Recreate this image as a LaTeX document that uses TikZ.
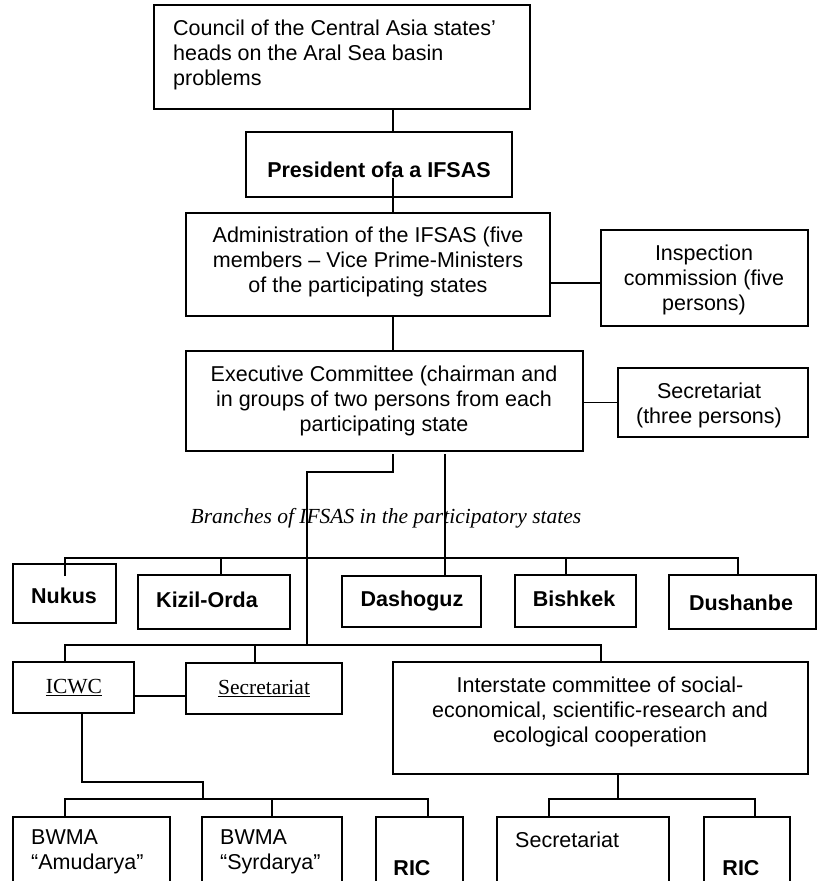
\documentclass[tikz,border=0pt]{standalone}
\usepackage{fontspec}
\setmainfont{Liberation Sans}
\newfontfamily\serifTNR{Liberation Serif}
\usetikzlibrary{fit}
\begin{document}
\begin{tikzpicture}[x=1pt,y=-1pt,
  box/.style={draw, line width=1.5pt, rectangle, inner sep=0pt},
  txt/.style={inner sep=0pt, font=\fontsize{21.5}{25}\selectfont, align=center},
  bold/.style={txt, font=\fontsize{21.5}{25}\selectfont\bfseries},
  conn/.style={line width=1.5pt}]
\useasboundingbox (0,0) rectangle (818,881);
\clip (0,0) rectangle (818,881);

% boxes
\node[box, fit={(154,5) (530,109)}] (council) {};
\node[box, fit={(246,132) (512,197)}] (pres) {};
\node[box, fit={(186,213) (550,316)}] (admin) {};
\node[box, fit={(601,230) (808,326)}] (insp) {};
\node[box, fit={(186,351) (583,451)}] (exec) {};
\node[box, fit={(618,368) (808,437)}] (secA) {};
\node[box, fit={(13,564) (116,623)}] (nukus) {};
\node[box, fit={(138,575) (290,629)}] (kizil) {};
\node[box, fit={(342,576) (481,627)}] (dasho) {};
\node[box, fit={(515,575) (636,627)}] (bish) {};
\node[box, fit={(669,575) (816,629)}] (dush) {};
\node[box, fit={(13,662) (134,713)}] (icwc) {};
\node[box, fit={(186,663) (342,714)}] (secB) {};
\node[box, fit={(393,662) (808,774)}] (inter) {};
\node[box, fit={(13,817) (170,910)}] (bwmaA) {};
\node[box, fit={(202,817) (342,910)}] (bwmaS) {};
\node[box, fit={(376,817) (463,910)}] (ricA) {};
\node[box, fit={(497,817) (669,910)}] (secC) {};
\node[box, fit={(704,817) (790,910)}] (ricB) {};

% texts
\node[txt, align=left, anchor=west] (tcouncil) at (173,54.5) {Council of the Central Asia states’\\heads on the Aral Sea basin\\problems};
\node[bold] (tpres) at (379,169.5) {President ofa a IFSAS};
\node[txt] (tadmin) at (368,261.5) {Administration of the IFSAS (five\\members – Vice Prime-Ministers\\of the participating states};
\node[txt] (tinsp) at (704,279.5) {Inspection\\commission (five\\persons)};
\node[txt] (texec) at (384,400.5) {Executive Committee (chairman and\\in groups of two persons from each\\participating state};
\node[txt] (tsecA) at (709,405) {Secretariat\\(three persons)};
\node[txt, font=\fontsize{21.5}{25}\selectfont\serifTNR\itshape] (tbranch) at (386,518.5) {Branches of IFSAS in the participatory states};
\node[bold] (tnukus) at (64,595.5) {Nukus};
\node[bold] (tkizil) at (207,599.5) {Kizil-Orda};
\node[bold] (tdasho) at (412,600.5) {Dashoguz};
\node[bold] (tbish) at (574,598.5) {Bishkek};
\node[bold] (tdush) at (741,602.5) {Dushanbe};
\node[txt, font=\fontsize{21.5}{25}\selectfont\serifTNR] (ticwc) at (74,687.5) {\underline{ICWC}};
\node[txt, font=\fontsize{21.5}{25}\selectfont\serifTNR] (tsecB) at (264,688.5) {\underline{Secretariat}};
\node[txt] (tinter) at (600,711.5) {Interstate committee of social-\\economical, scientific-research and\\ecological cooperation};
\node[txt, align=left, anchor=west] (tbwmaA) at (31,852) {BWMA\\“Amudarya”};
\node[txt, align=left, anchor=west] (tbwmaS) at (220,852) {BWMA\\“Syrdarya”};
\node[bold] (tricA) at (412,868.5) {RIC};
\node[txt, anchor=west] (tsecC) at (515,839.5) {Secretariat};
\node[bold] (tricB) at (741,868.5) {RIC};

% named coordinates
\coordinate (sp) at (393,0);
\coordinate (presin) at (393,178);
\coordinate (ai) at (0,283);
\coordinate (ex1) at (393,454);
\coordinate (ex2) at (307,472);
\coordinate (ex3) at (445,454);
\coordinate (icbus) at (0,645);
\coordinate (icL) at (65,645);
\coordinate (icR) at (601,645);
\coordinate (s2d) at (255,645);
\coordinate (nk) at (65,576);
\coordinate (brR) at (738,558);
\coordinate (brk) at (221,558);
\coordinate (brb) at (566,558);
\coordinate (is) at (0,696);
\coordinate (ib1) at (82,782);
\coordinate (ib2) at (203,782);
\coordinate (ib3) at (203,799);
\coordinate (bL) at (65,799);
\coordinate (bM) at (272,799);
\coordinate (bR) at (428,799);
\coordinate (ir) at (618,799);
\coordinate (iL) at (549,799);
\coordinate (iR) at (755,799);

% connectors
\draw[conn] (council.south -| sp) -- (pres.north -| sp);
\draw[conn] (presin) -- (admin.north -| sp);
\draw[conn] (admin.east |- ai) -- (insp.west |- ai);
\draw[conn] (admin.south -| sp) -- (exec.north -| sp);
\draw[conn] (exec.east |- secA.west) -- (secA.west);
\draw[conn] (ex1) |- (ex2) -- (ex2 |- icbus);
\draw[conn] (ex3) -- (dasho.north -| ex3);
\draw[conn] (nk) |- (brR) -- (dush.north -| brR);
\draw[conn] (brk) -- (kizil.north -| brk);
\draw[conn] (brb) -- (bish.north -| brb);
\draw[conn] (icwc.north -| icL) |- (icR) -- (inter.north -| icR);
\draw[conn] (s2d) -- (secB.north -| s2d);
\draw[conn] (icwc.east |- is) -- (secB.west |- is);
\draw[conn] (icwc.south -| ib1) |- (ib2) -- (ib3);
\draw[conn] (bwmaA.north -| bL) |- (bR) -- (ricA.north -| bR);
\draw[conn] (bM) -- (bwmaS.north -| bM);
\draw[conn] (inter.south -| ir) -- (ir);
\draw[conn] (secC.north -| iL) |- (iR) -- (ricB.north -| iR);
\end{tikzpicture}
\end{document}
